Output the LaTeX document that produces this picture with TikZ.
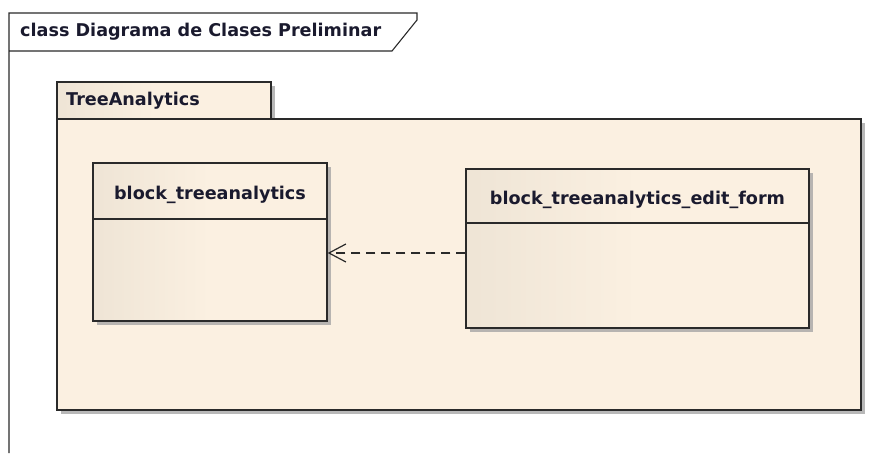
\documentclass[tikz,border=0pt]{standalone}
\usepackage{fontspec}
\setmainfont{DejaVu Sans}
\usetikzlibrary{shadows,arrows.meta}
\definecolor{cream}{HTML}{FBF0E1}
\definecolor{dk}{HTML}{E2D9CA}
\definecolor{edge}{HTML}{2A2A2A}
\definecolor{txt}{HTML}{1A1A2E}
\pgfdeclarehorizontalshading{classgrad}{100bp}{color(0bp)=(dk); color(50bp)=(cream); color(100bp)=(cream)}
\tikzset{
  lbl/.style={font=\fontsize{17.6}{19}\selectfont\bfseries, text=txt, inner sep=0pt},
  shad/.style={drop shadow={shadow xshift=4pt, shadow yshift=-4pt, fill=black!35, opacity=0.8}},
  classbox/.style={draw=edge, line width=1.3pt, shading=classgrad, shading angle=0, inner sep=0pt, shad},
  pkgbox/.style={draw=edge, line width=1.3pt, fill=cream, inner sep=0pt, shad},
  frameline/.style={draw=edge, line width=1.1pt},
  dep/.style={draw=edge, line width=1.1pt, dash pattern=on 9pt off 6pt, -{Straight Barb[length=17pt, width=18pt, line width=1.2pt]}}
}
\begin{document}
\begin{tikzpicture}[x=1pt,y=-1pt]
\useasboundingbox (0,0) rectangle (894,453);
% frame
\draw[frameline] (9,453) -- (9,13) -- (417,13) -- (417,20) -- (392,51) -- (9,51);
\node[lbl, anchor=west] (ftitle) at (20,32) {class Diagrama de Clases Preliminar};
% package
\node[classbox, minimum width=214pt, minimum height=37pt] (pkgtab) at (164,100.5) {};
\node[pkgbox, minimum width=804pt, minimum height=291pt] (pkg) at (459,264.5) {};
\node[lbl, anchor=west] (pkgname) at (66,101) {TreeAnalytics};
% class 1
\node[classbox, minimum width=234pt, minimum height=158pt] (c1) at (210,242) {};
\node[lbl] (c1name) at (c1.north |- 0,195) {block\_treeanalytics};
\draw[draw=edge, line width=1.1pt] (c1.west |- 0,219) -- (c1.east |- 0,219);
% class 2
\node[classbox, minimum width=343pt, minimum height=159pt] (c2) at (637.5,248.5) {};
\node[lbl] (c2name) at (c2.north |- 0,200) {block\_treeanalytics\_edit\_form};
\draw[draw=edge, line width=1.1pt] (c2.west |- 0,223) -- (c2.east |- 0,223);
% dependency
\draw[dep] (c2.west |- 0,253) -- (c1.east |- 0,253);
\end{tikzpicture}
\end{document}
